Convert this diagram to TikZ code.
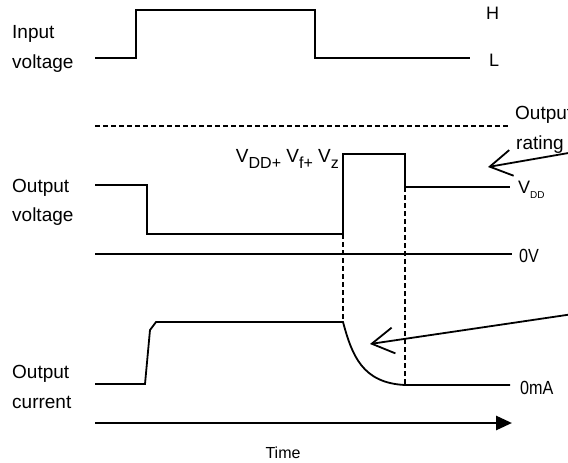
\documentclass[tikz,border=0pt]{standalone}
\usepackage{fontspec}
\setmainfont{Liberation Sans}
\usetikzlibrary{arrows.meta}
\tikzset{
  wave/.style={line width=1.8pt, line join=miter},
  guide/.style={line width=1.4pt, dash pattern=on 5pt off 3pt},
  lbl/.style={inner sep=0pt, anchor=base west, font=\fontsize{19}{22}\selectfont},
  rlbl/.style={inner sep=0pt, anchor=west, font=\fontsize{18}{21}\selectfont},
  narrow/.style={inner sep=0pt, anchor=west, font=\fontsize{19}{22}\selectfont, xscale=0.85},
  pointer/.style={line width=1.8pt, -{Straight Barb[length=22pt,width=26pt,line width=1.8pt]}},
  axis/.style={line width=2.8pt, -{Triangle[length=16pt,width=14pt]}}
}
\newcommand{\lowsub}[1]{\raisebox{-6pt}{\fontsize{16}{19}\selectfont #1}}
\begin{document}
\begin{tikzpicture}[x=1pt,y=-1pt]
\useasboundingbox (0,0) rectangle (568,463);
\clip (0,0) rectangle (568,463);
% labels left
\node[lbl] (in1) at (12,38) {Input};
\node[lbl] (in2) at (12,68) {voltage};
\node[lbl] (ov1) at (12,192) {Output};
\node[lbl] (ov2) at (12,221) {voltage};
\node[lbl] (oc1) at (12,378) {Output};
\node[lbl] (oc2) at (12,408) {current};
% right labels
\node[rlbl] (H) at (486,13) {H};
\node[rlbl] (L) at (489,60) {L};
\node[lbl] (or1) at (515,119) {Output};
\node[lbl] (or2) at (516,149) {rating};
\node[rlbl] (vdd) at (518,190) {V\raisebox{-5pt}{\fontsize{10}{12}\selectfont DD}};
\node[narrow] (zv) at (519,256) {0V};
\node[narrow] (zma) at (520,388) {0mA};
\node[inner sep=0pt, anchor=base east, font=\fontsize{19}{22}\selectfont] (vsum) at (339,162)
  {V\lowsub{DD+} V\lowsub{f+} V\lowsub{z}};
\node[inner sep=0pt, font=\fontsize{16}{19}\selectfont] (time) at (283,453) {Time};
% input voltage
\draw[wave] (95,58) -- (136,58) -- (136,10) -- (315,10) -- (315,58) -- (470,58);
% output rating
\draw[guide] (95,126) -- (509,126);
% output voltage
\coordinate (p1) at (343,234);
\coordinate (p2) at (405,187);
\draw[wave] (95,185) -- (147,185) -- (147,234) -- (p1) -- (343,154) -- (405,154) -- (p2) -- (510,187);
\draw[wave] (95,254) -- (512,254);
% output current
\coordinate (c1) at (343,322);
\coordinate (c2) at (405,385);
\draw[wave] (95,384) -- (145,384) -- (150,330) -- (156,322) -- (c1)
  .. controls (352,355) and (362,383) .. (c2) -- (510,385);
% dashed verticals
\draw[guide] (p1) -- (c1);
\draw[guide] (p2) -- (c2);
% time axis
\coordinate (t0) at (95,423);
\coordinate (t1) at (512,423);
\draw[axis] (t0) -- (t1);
% pointers
\coordinate (a1s) at (580,151);
\coordinate (a1e) at (488,167);
\coordinate (a2s) at (580,313);
\coordinate (a2e) at (370,344);
\draw[pointer] (a1s) -- (a1e);
\draw[pointer] (a2s) -- (a2e);
\end{tikzpicture}
\end{document}
